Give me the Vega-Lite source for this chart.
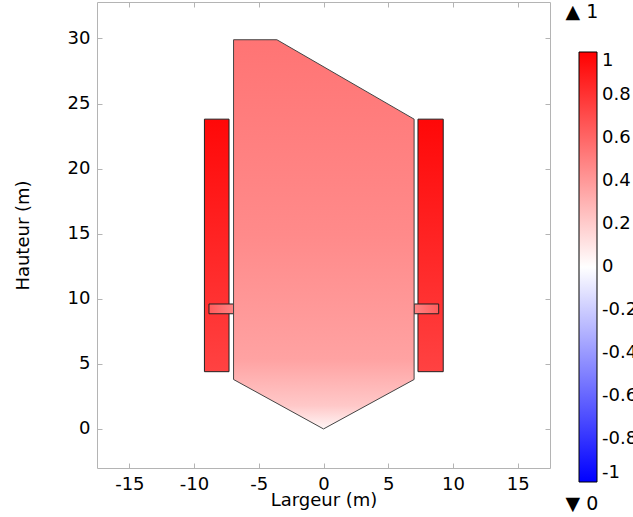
{
  "$schema": "https://vega.github.io/schema/vega-lite/v6.json",
  "width": 453,
  "height": 466,
  "autosize": {"type": "none"},
  "padding": {"left": 97, "top": 2, "right": 83, "bottom": 49},
  "config": {
    "font": "DejaVu Sans",
    "view": {"stroke": "#b4b4b4", "strokeWidth": 1},
    "axis": {
      "domain": false, "grid": false, "tickColor": "#b4b4b4", "tickSize": -5,
      "labelFontSize": 18, "labelColor": "#000", "titleFontSize": 18,
      "titleFontWeight": "normal", "titleColor": "#000", "labelPadding": 12,
      "labelExpr": "datum.value"
    },
    "legend": {"labelFontSize": 18, "labelColor": "#000"}
  },
  "datasets": {
    "polygon": [
      {"i": 0, "x": 0, "y": 0},
      {"i": 1, "x": 7, "y": 3.8},
      {"i": 2, "x": 7, "y": 23.8},
      {"i": 3, "x": -3.6, "y": 29.9},
      {"i": 4, "x": -6.95, "y": 29.9},
      {"i": 5, "x": -6.95, "y": 3.8},
      {"i": 6, "x": 0, "y": 0}
    ],
    "rects": [
      {"kind": "big", "x0": -9.2, "x1": -7.3, "y0": 4.4, "y1": 23.8},
      {"kind": "big", "x0": 7.3, "x1": 9.25, "y0": 4.4, "y1": 23.8},
      {"kind": "smallL", "x0": -8.85, "x1": -6.95, "y0": 8.85, "y1": 9.6},
      {"kind": "smallR", "x0": 7, "x1": 8.9, "y0": 8.85, "y1": 9.6}
    ],
    "legend": [{"v": -1}, {"v": 0}, {"v": 1}]
  },
  "resolve": {"axis": {"x": "independent", "y": "independent"}},
  "layer": [
    {
      "data": {"name": "rects"},
      "transform": [{"filter": "datum.kind == 'big'"}],
      "mark": {
        "type": "rect", "stroke": "#222", "strokeWidth": 1,
        "fill": {"gradient": "linear", "x1": 0, "y1": 0, "x2": 0, "y2": 1,
          "stops": [{"offset": 0, "color": "#ff0808"}, {"offset": 1, "color": "#ff4242"}]}
      },
      "encoding": {
        "x": {"field": "x0", "type": "quantitative",
          "scale": {"domain": [-17.5, 17.5], "nice": false, "zero": false},
          "axis": {"orient": "bottom", "values": [-15, -10, -5, 0, 5, 10, 15], "title": "Largeur (m)", "titlePadding": -2}},
        "x2": {"field": "x1"},
        "y": {"field": "y0", "type": "quantitative",
          "scale": {"domain": [-3, 32.8], "nice": false, "zero": false},
          "axis": {"orient": "left", "values": [0, 5, 10, 15, 20, 25, 30], "title": "Hauteur (m)", "titlePadding": 35}},
        "y2": {"field": "y1"}
      }
    },
    {
      "data": {"name": "rects"},
      "transform": [{"filter": "datum.kind == 'smallL'"}],
      "mark": {
        "type": "rect", "stroke": "#222", "strokeWidth": 1,
        "fill": {"gradient": "linear", "x1": 0, "y1": 0, "x2": 1, "y2": 0,
          "stops": [{"offset": 0, "color": "#ff5c5c"}, {"offset": 1, "color": "#ff8484"}]}
      },
      "encoding": {
        "x": {"field": "x0", "type": "quantitative", "axis": null},
        "x2": {"field": "x1"},
        "y": {"field": "y0", "type": "quantitative", "axis": null},
        "y2": {"field": "y1"}
      }
    },
    {
      "data": {"name": "rects"},
      "transform": [{"filter": "datum.kind == 'smallR'"}],
      "mark": {
        "type": "rect", "stroke": "#222", "strokeWidth": 1,
        "fill": {"gradient": "linear", "x1": 0, "y1": 0, "x2": 1, "y2": 0,
          "stops": [{"offset": 0, "color": "#ff8484"}, {"offset": 1, "color": "#ff5c5c"}]}
      },
      "encoding": {
        "x": {"field": "x0", "type": "quantitative", "axis": null},
        "x2": {"field": "x1"},
        "y": {"field": "y0", "type": "quantitative", "axis": null},
        "y2": {"field": "y1"}
      }
    },
    {
      "data": {"name": "polygon"},
      "mark": {
        "type": "line", "stroke": "#444", "strokeWidth": 1,
        "fill": {"gradient": "linear", "x1": 0, "y1": 0, "x2": 0, "y2": 1,
          "stops": [
            {"offset": 0, "color": "#ff7474"},
            {"offset": 0.5, "color": "#ff8a8a"},
            {"offset": 0.82, "color": "#ffa2a2"},
            {"offset": 0.94, "color": "#ffc8c8"},
            {"offset": 1, "color": "#fff6f6"}
          ]}
      },
      "encoding": {
        "x": {"field": "x", "type": "quantitative",
          "axis": {"orient": "top", "values": [-15, -10, -5, 0, 5, 10, 15], "labels": false, "title": null}},
        "y": {"field": "y", "type": "quantitative",
          "axis": {"orient": "right", "values": [0, 5, 10, 15, 20, 25, 30], "labels": false, "title": null}},
        "order": {"field": "i", "type": "quantitative"}
      }
    },
    {
      "data": {"name": "legend"},
      "mark": {"type": "point", "opacity": 0},
      "encoding": {
        "color": {"field": "v", "type": "quantitative",
          "scale": {"domain": [-1, 0, 1], "range": ["#0000ff", "#ffffff", "#ff0000"], "interpolate": "rgb"},
          "legend": {
            "orient": "none", "legendX": 482, "legendY": 50, "direction": "vertical",
            "gradientLength": 430, "gradientThickness": 18,
            "gradientStrokeColor": "#000", "gradientStrokeWidth": 1,
            "values": [1, 0.8, 0.6, 0.4, 0.2, 0, -0.2, -0.4, -0.6, -0.8, -1],
            "labelExpr": "datum.value", "labelLimit": 300,
            "labelOverlap": false, "labelBaseline": "middle", "labelOffset": 5,
            "title": null
          }}
      }
    },
    {
      "data": {"values": [{"label": "▲ 1"}]},
      "mark": {"type": "text", "align": "left", "baseline": "middle", "fontSize": 19, "color": "#000"},
      "encoding": {
        "text": {"field": "label"},
        "x": {"datum": 18.7, "type": "quantitative", "axis": null},
        "y": {"datum": 32.05, "type": "quantitative", "axis": null}
      }
    },
    {
      "data": {"values": [{"label": "▼ 0"}]},
      "mark": {"type": "text", "align": "left", "baseline": "middle", "fontSize": 19, "color": "#000"},
      "encoding": {
        "text": {"field": "label"},
        "x": {"datum": 18.7, "type": "quantitative", "axis": null},
        "y": {"datum": -5.76, "type": "quantitative", "axis": null}
      }
    }
  ]
}
